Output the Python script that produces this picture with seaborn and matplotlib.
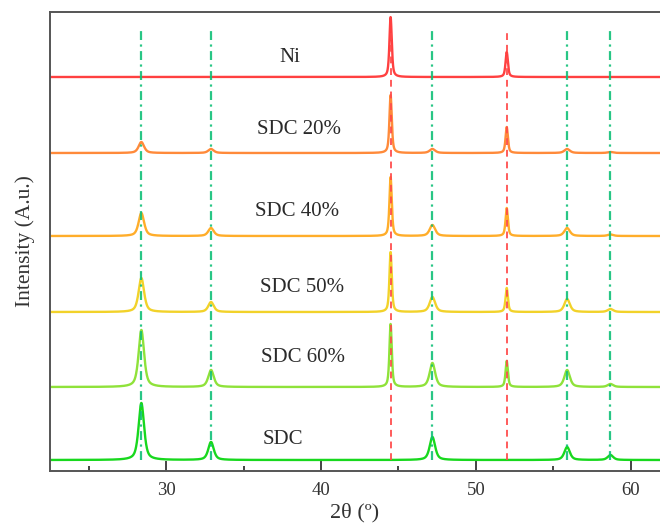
import numpy as np
import pandas as pd
import matplotlib
matplotlib.use('Agg')
import matplotlib.pyplot as plt
import seaborn as sns

# --- データ ---
SERIES = ['Ni', 'SDC 20%', 'SDC 40%', 'SDC 50%', 'SDC 60%', 'SDC']

# ピーク位置 (2θ)
SDC_PEAKS = [28.4, 32.9, 47.2, 55.9, 58.7]
NI_PEAKS = [44.5, 52.0]

# 各系列のピーク強度 (任意単位)
SDC_HEIGHTS = {
    'Ni':      [0, 0, 0, 0, 0],
    'SDC 20%': [11, 4, 4, 4, 1],
    'SDC 40%': [23, 8, 11, 8, 1.5],
    'SDC 50%': [34, 10, 15, 13, 3],
    'SDC 60%': [57, 17, 24, 17, 3],
    'SDC':     [57, 18, 23, 13, 5],
}
NI_HEIGHTS = {
    'Ni':      [60, 25],
    'SDC 20%': [58, 26],
    'SDC 40%': [59, 28],
    'SDC 50%': [60, 24],
    'SDC 60%': [63, 26],
    'SDC':     [0, 0],
}
# ピーク半値幅
SDC_WIDTH = 0.42
NI_WIDTH = 0.18

# 縦方向のオフセット
OFFSETS = [394, 318, 235, 159, 84, 11]

COLORS = ['#ff4040', '#ff8a3a', '#ffad2a', '#f2d22a', '#8fe23a', '#18d81e']

# ラベル位置 (2θ, 高さ)
LABEL_POS = [(38.0, 414), (35.9, 342), (35.75, 260), (36.05, 183), (36.1, 113), (36.25, 31)]

X_MIN, X_MAX = 22.5, 61.9


def profile(x, pos, h, w):
    # 擬フォークト型 (ローレンツ + ガウス)
    lor = 1.0 / (1.0 + ((x - pos) / (w / 2)) ** 2)
    gau = np.exp(-4 * np.log(2) * ((x - pos) / w) ** 2)
    return h * (0.6 * lor + 0.4 * gau)


x = np.linspace(X_MIN, 63, 4000)
frames = []
for name, off in zip(SERIES, OFFSETS):
    y = np.zeros_like(x)
    for p, h in zip(SDC_PEAKS, SDC_HEIGHTS[name]):
        y += profile(x, p, h, SDC_WIDTH)
    for p, h in zip(NI_PEAKS, NI_HEIGHTS[name]):
        y += profile(x, p, h, NI_WIDTH)
    frames.append(pd.DataFrame({'two_theta': x, 'intensity': y + off, 'sample': name}))
df = pd.concat(frames, ignore_index=True)

sns.set_theme(style='ticks')
plt.rcParams['font.family'] = ['Liberation Serif', 'DejaVu Serif']

fig = plt.figure(figsize=(6.6, 5.23), dpi=100)
ax = fig.add_axes([50 / 660, 1 - 471 / 523, 1 - 50 / 660, (471 - 12) / 523])

sns.lineplot(data=df, x='two_theta', y='intensity', hue='sample',
             palette=dict(zip(SERIES, COLORS)), estimator=None, sort=False,
             linewidth=1.7, legend=False, ax=ax, zorder=2)

# 参照線
ax.vlines(SDC_PEAKS, 11, 440, colors='#10c078', linestyles=(0, (4, 2, 1, 2)),
          linewidth=1.6, alpha=0.9, zorder=3)
ax.vlines(NI_PEAKS, 11, 440, colors='#ff4a4a', linestyles=(0, (3.5, 2.5)),
          linewidth=1.4, alpha=0.9, zorder=3)

for name, (lx, ly) in zip(SERIES, LABEL_POS):
    ha = 'center' if name == 'Ni' else 'left'
    ax.text(lx, ly, name, ha=ha, va='center', fontsize=15, color='#2a2a2a')

ax.set_xlim(X_MIN, X_MAX)
ax.set_ylim(0, 459)
ax.set_yticks([])
ax.set_xticks([30, 40, 50, 60])
ax.set_xticks([25, 35, 45, 55], minor=True)
ax.tick_params(axis='x', which='major', direction='in', length=7, width=1.4,
               labelsize=13.5, colors='#444444', labelcolor='#333333', pad=8)
ax.tick_params(axis='x', which='minor', direction='in', length=3.5, width=1.4, colors='#444444')
ax.set_xlabel('2θ (º)', fontsize=16, color='#333333', labelpad=3)
ax.set_ylabel('Intensity (A.u.)', fontsize=15.5, color='#333333', labelpad=11)
for s in ['left', 'bottom', 'top']:
    ax.spines[s].set_color('#555555')
    ax.spines[s].set_linewidth(1.4)
ax.spines['right'].set_visible(False)

fig.savefig('out.png', dpi=100)
plt.close(fig)
